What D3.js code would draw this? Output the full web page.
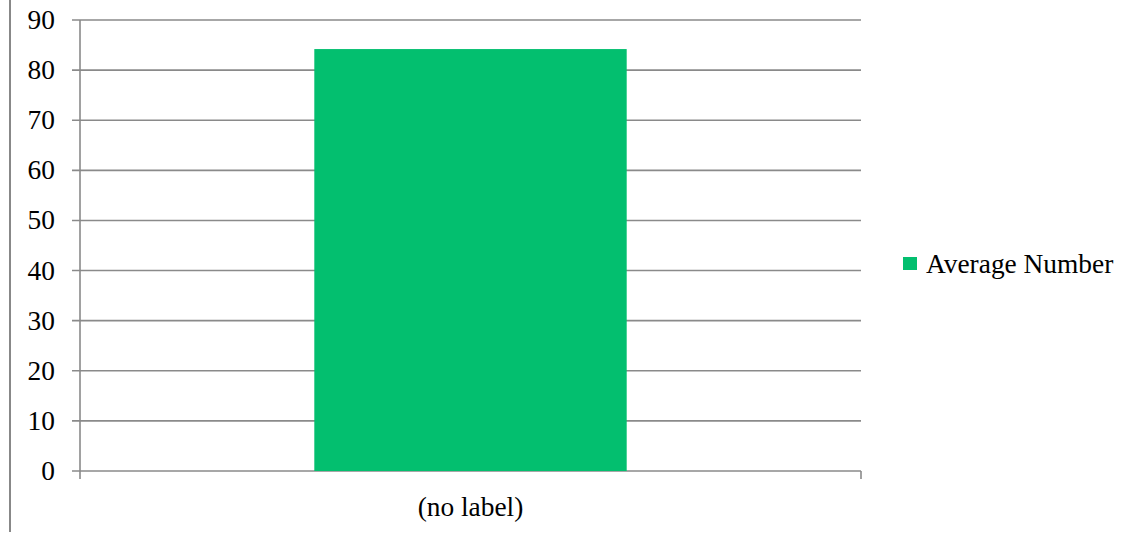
<!DOCTYPE html>
<html><head><meta charset="utf-8">
<script src="https://cdn.jsdelivr.net/npm/d3@7"></script>
<style>html,body{margin:0;padding:0;background:#fff;}svg{display:block;}</style>
</head><body>
<script>
const categories = ["(no label)"];
const seriesName = "Average Number";
const values = [84.2];
const yTicks = [0,10,20,30,40,50,60,70,80,90];

const W = 1137, H = 533;
const font = "'Liberation Serif', serif";
const fs = 27.4;
const svg = d3.select("body").append("svg").attr("width", W).attr("height", H);

// left frame line
svg.append("line").attr("x1",10).attr("x2",10).attr("y1",0).attr("y2",532)
  .attr("stroke","#888").attr("stroke-width",2);

const x = d3.scaleBand().domain(categories).range([80, 861]).paddingInner(0.6).paddingOuter(0.3);
const y = d3.scaleLinear().domain([0, 90]).range([471, 20]);

const grid = svg.append("g");
yTicks.forEach(t => {
  grid.append("line").attr("x1", 72).attr("x2", 861).attr("y1", y(t)).attr("y2", y(t))
    .attr("stroke", "#8a8a8a").attr("stroke-width", 1.6);
});

// bars
svg.selectAll("rect.bar").data(values).enter().append("rect")
  .attr("x", (d,i) => x(categories[i])).attr("width", x.bandwidth())
  .attr("y", d => y(d)).attr("height", d => y(0) - y(d))
  .attr("fill", "#03bf6f");

// y axis line
svg.append("line").attr("x1",80).attr("x2",80).attr("y1",y(90)).attr("y2",479)
  .attr("stroke","#8a8a8a").attr("stroke-width",1.6);
// x axis right tick
svg.append("line").attr("x1",861).attr("x2",861).attr("y1",y(0)).attr("y2",479)
  .attr("stroke","#8a8a8a").attr("stroke-width",1.6);

// y tick labels
svg.selectAll("text.ytick").data(yTicks).enter().append("text")
  .attr("x", 55).attr("y", d => y(d)).attr("text-anchor","end").attr("dominant-baseline","central")
  .style("font-family", font).style("font-size", fs+"px").attr("fill","#000").text(d => d);

// x labels
svg.selectAll("text.xlab").data(categories).enter().append("text")
  .attr("x", d => x(d) + x.bandwidth()/2).attr("y", 507).attr("text-anchor","middle").attr("dominant-baseline","central")
  .style("font-family", font).style("font-size", fs+"px").attr("fill","#000").text(d => d);

// legend
svg.append("rect").attr("x",903).attr("y",257).attr("width",14).attr("height",13).attr("fill","#03bf6f");
svg.append("text").attr("x",926).attr("y",264).attr("dominant-baseline","central")
  .style("font-family", font).style("font-size", fs+"px").attr("fill","#000").text(seriesName);
</script>
</body></html>
